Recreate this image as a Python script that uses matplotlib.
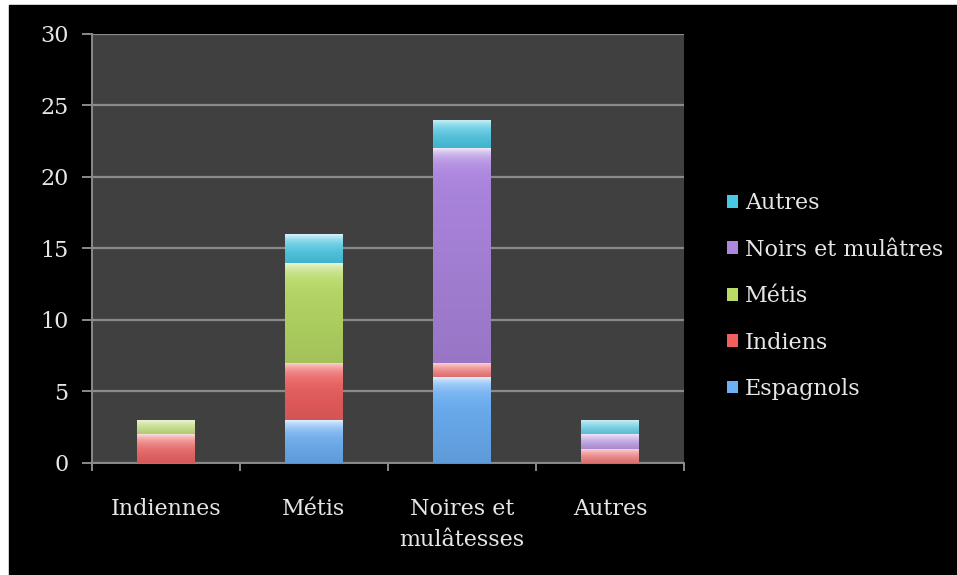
import numpy as np
import matplotlib
matplotlib.use("Agg")
import matplotlib.pyplot as plt
from matplotlib.colors import to_rgb
from matplotlib.patches import Patch

categories = ["Indiennes", "Métis", "Noires et\nmulâtesses", "Autres"]
series = ["Espagnols", "Indiens", "Métis", "Noirs et mulâtres", "Autres"]
espagnols = [0, 3, 6, 0]
indiens = [2, 4, 1, 1]
metis = [1, 7, 0, 0]
noirs = [0, 0, 15, 1]
autres = [0, 2, 2, 1]
values = [espagnols, indiens, metis, noirs, autres]

colors = ["#6cb0f6", "#f0605f", "#b9dc66", "#ad86e0", "#46c8e6"]

BG = "#000000"
PLOT_BG = "#404040"
GRID = "#8a8a8a"
TEXT = "#e6e6e6"
FONT = ["DejaVu Serif"]

plt.rcParams.update({
    "font.family": FONT,
    "text.color": TEXT,
    "xtick.color": GRID,
    "ytick.color": GRID,
    "xtick.labelcolor": TEXT,
    "ytick.labelcolor": TEXT,
})


def glossy(ax, patch, color, y_span):
    """Fill a bar patch with a vertical gradient: pale sheen on top, darker at the base."""
    x0, y0 = patch.get_x(), patch.get_y()
    w, h = patch.get_width(), patch.get_height()
    if h <= 0:
        return
    base = np.array(to_rgb(color))
    n = 200
    depth = np.linspace(0, h, n)              # distance from the top, data units
    sheen = 0.8 * np.exp(-depth / (0.02 * y_span))
    shade = 0.12 * depth / max(h, 1e-9)
    rgb = base[None, :] * (1 - shade[:, None])
    rgb = rgb * (1 - sheen[:, None]) + sheen[:, None]
    img = np.repeat(rgb[:, None, :], 4, axis=1)
    im = ax.imshow(img, extent=(x0, x0 + w, y0, y0 + h), origin="upper",
                   aspect="auto", zorder=3, interpolation="bilinear")
    im.set_clip_path(patch)
    patch.set_alpha(0)


fig = plt.figure(figsize=(9.57, 5.75), dpi=100, facecolor="white")
# black panel inside the thin white frame
fig.patches.append(plt.Rectangle((9 / 957, 0), 1, 1 - 5 / 575,
                                 transform=fig.transFigure, color=BG, zorder=-10))
ax = fig.add_axes([0.0961, 0.1948, 0.6186, 0.7461])
ax.set_facecolor(PLOT_BG)

x = np.arange(len(categories))
width = 0.39
bottom = np.zeros(len(categories))
for name, vals, col in zip(series, values, colors):
    vals = np.array(vals, dtype=float)
    bars = ax.bar(x, vals, width, bottom=bottom, color=col, edgecolor="none",
                  label=name, zorder=3)
    for b in bars:
        glossy(ax, b, col, 30)
    bottom += vals

ax.set_xlim(-0.5, len(categories) - 0.5)
ax.set_ylim(0, 30)
ax.set_yticks(range(0, 31, 5))
ax.yaxis.grid(True, color=GRID, linewidth=1.6)
ax.set_axisbelow(True)

ax.set_xticks(x)
ax.set_xticklabels(categories, fontsize=16, linespacing=1.55)
ax.tick_params(axis="x", length=0, pad=25)
ax.set_xticks(np.arange(-0.5, len(categories)), minor=True)
ax.tick_params(axis="x", which="minor", length=6, width=1.4, color=GRID)
ax.tick_params(axis="y", length=7, width=1.4, labelsize=16, pad=10)

for side in ["top", "right"]:
    ax.spines[side].set_visible(False)
for side in ["left", "bottom"]:
    ax.spines[side].set_color(GRID)
    ax.spines[side].set_linewidth(1.4)

handles = [Patch(facecolor=c, edgecolor="none") for c in colors]
leg = fig.legend(handles[::-1], series[::-1], loc="center left",
                 bbox_to_anchor=(0.739, 0.485), frameon=False, fontsize=16,
                 handlelength=0.5, handleheight=0.5, handletextpad=0.3,
                 labelspacing=1.1, labelcolor=TEXT)

fig.savefig("out.png", dpi=100, facecolor="white")
